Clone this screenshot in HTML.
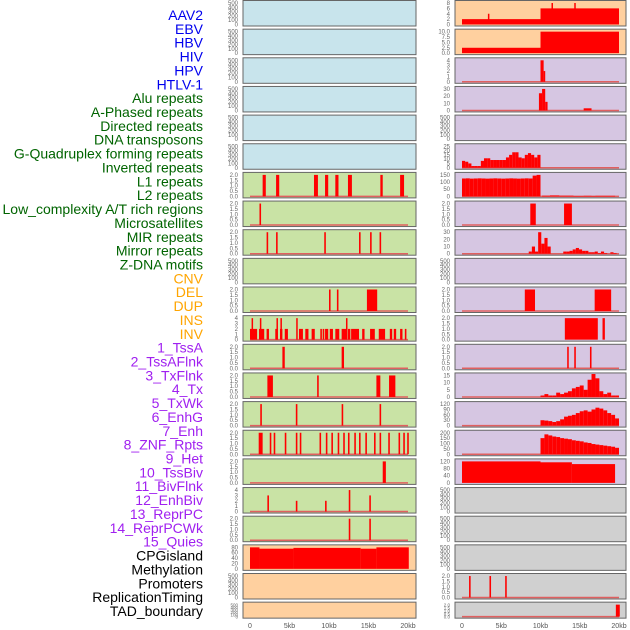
<!DOCTYPE html>
<html><head><meta charset="utf-8"><style>
html,body{margin:0;padding:0;background:#fff;}
svg{display:block;font-family:"Liberation Sans",sans-serif;}
</style></head><body>
<svg id="chart" width="630" height="630"></svg>
<script>
const labels=["AAV2","EBV","HBV","HIV","HPV","HTLV-1","Alu repeats","A-Phased repeats","Directed repeats","DNA transposons","G-Quadruplex forming repeats","Inverted repeats","L1 repeats","L2 repeats","Low_complexity A/T rich regions","Microsatellites","MIR repeats","Mirror repeats","Z-DNA motifs","CNV","DEL","DUP","INS","INV","1_TssA","2_TssAFlnk","3_TxFlnk","4_Tx","5_TxWk","6_EnhG","7_Enh","8_ZNF_Rpts","9_Het","10_TssBiv","11_BivFlnk","12_EnhBiv","13_ReprPC","14_ReprPCWk","15_Quies","CPGisland","Methylation","Promoters","ReplicationTiming","TAD_boundary"];
const labelColors=["#0000ee","#0000ee","#0000ee","#0000ee","#0000ee","#0000ee","#006400","#006400","#006400","#006400","#006400","#006400","#006400","#006400","#006400","#006400","#006400","#006400","#006400","#ffa500","#ffa500","#ffa500","#ffa500","#ffa500","#a020f0","#a020f0","#a020f0","#a020f0","#a020f0","#a020f0","#a020f0","#a020f0","#a020f0","#a020f0","#a020f0","#a020f0","#a020f0","#a020f0","#a020f0","#000","#000","#000","#000","#000"];
const xTicks=[0,5,10,15,20];
const xTickLabels=["0","5kb","10kb","15kb","20kb"];
const t500=[0,100,200,300,400,500];
const t2=[0,0.5,1,1.5,2];
const t4=[0,1,2,3,4];
// bars: [startKb,endKb,value]
const L7=[[1.6,2.0,2],[3.3,3.7,2],[8.1,8.6,2],[9.5,9.9,2],[10.8,11.2,2],[12.4,12.9,2],[16.5,16.8,2],[19.0,19.5,2]];
const L8=[[1.2,1.4,2]];
const L9=[[2.1,2.3,2],[3.3,3.5,2],[9.4,9.6,2],[13.8,14.0,2],[15.2,15.4,2],[16.4,16.6,2]];
const L11=[[10.0,10.2,2],[11.0,11.2,2],[14.8,16.1,2]];
const L12=[[0,0.9,2],[1.14,1.8,2],[2.1,2.4,2],[3.2,3.5,2],[3.8,4.1,2],[4.4,4.8,2],[6.2,6.7,2],[7.0,7.4,2],[7.8,8.2,2],[8.9,9.1,2],[9.2,9.4,2],[9.5,9.9,2],[10.1,10.5,2],[10.8,11.3,2],[11.6,12.2,2],[12.4,12.7,2],[12.8,13.8,2],[14.2,14.5,2],[15.2,15.8,2],[16.3,17.1,2],[17.7,18.0,2],[18.2,18.5,2],[19.0,19.3,2],[19.6,19.8,2],[0.2,0.35,4],[1.25,1.4,4],[3.35,3.5,4],[3.85,4.0,4],[5.85,6.0,4],[12.15,12.3,4]];
const L13=[[4.1,4.4,2],[11.6,11.9,2]];
const L14=[[2.2,2.9,2],[8.5,8.7,2],[16.0,16.5,2],[17.6,18.4,2]];
const L15=[[1.3,1.5,2],[5.8,6.0,2],[11.6,11.8,2],[16.4,16.6,2]];
const L16=[[1.1,1.6,2],[2.5,2.7,2],[3.0,3.2,2],[4.4,4.6,2],[5.8,6.0,2],[6.3,6.5,2],[8.8,9.0,2],[9.6,9.8,2],[10.3,10.5,2],[11.1,11.3,2],[11.8,12.0,2],[12.4,12.6,2],[13.2,13.4,2],[13.8,14.0,2],[14.6,14.8,2],[15.7,15.9,2],[16.4,16.6,2],[17.5,17.7,2],[18.8,19.0,2],[19.4,19.6,2],[19.9,20.1,2]];
const L17=[[16.8,17.2,2]];
const L18=[[2.2,2.4,3],[5.8,6.0,2],[9.5,9.7,2],[12.5,12.7,4],[15.1,15.3,3]];
const L19=[[12.5,12.7,2],[15.1,15.3,2]];
const L20=[[0,1.2,80],[1.2,5.5,75],[5.5,14.0,78],[14.0,16.0,75],[16.0,20.1,80]];
const R1=[[0,10,2],[3.3,3.4,4],[10,20,6],[11.4,11.5,8],[14.3,14.4,8]];
const R2=[[0,10,2.5],[10,20,10]];
const R3=[[10.0,10.4,4],[10.4,10.6,2]];
const R4=[[9.8,10.2,24],[10.2,10.6,30],[10.6,10.9,12],[15.5,16.5,3]];
const R6v=[8,7,5,2,2,2,8,11,11,9,9,9,9,9,12,15,18,18,12,11,15,17,15,12,15];
const R7v=[125,126,124,125,126,125,124,125,126,125,124,125,126,125,124,125,126,125,145,150];
const R7tail=[[10.2,11.2,5],[11.2,12.4,7],[12.4,14.2,5],[14.2,15.5,3],[15.5,16.5,4],[16.5,17.0,3],[17.0,19.5,4]];
const R8=[[8.7,9.4,2],[13.0,14.0,2]];
const R9v=[3,10,3,30,14,22,10,0,0,0,0,3,3,4,6,8,6,4,4,2,2,3,1,3,1,0,2,1];
const R11=[[8.0,9.3,2],[16.9,19.0,2]];
const R12=[[13.1,17.3,2],[17.9,18.2,2]];
const R13=[[13.4,13.6,2],[14.3,14.5,2],[16.3,16.5,2]];
const R14v=[1,2,1,1,3,2,3,4,6,7,8,5,12,16,13,4,2,3,1,1];
const R15v=[30,28,25,20,25,35,50,55,60,70,80,85,78,90,100,95,85,70,60,40];
const R16v=[150,185,175,165,160,150,145,140,130,125,120,110,105,95,90,85,80,75,70,60];
const R17=[[0,10,120],[10,14,115],[14,19.5,105]];
const R21=[[0.9,1.1,2],[3.5,3.7,2],[5.5,5.7,2]];
const R22=[[19.6,20.1,2]];
function bins(vals,start,end){const w=(end-start)/vals.length;return vals.map((v,i)=>[start+i*w,start+(i+1)*w,v]);}
const BL="#c8e4ec",GR="#c9e3a5",PE="#ffd09f",LV="#d6c6e2",GY="#d0d0d0";
const left=[
[BL,t500,[]],[BL,t500,[]],[BL,t500,[]],[BL,t500,[]],[BL,t500,[]],[BL,t500,[]],
[GR,t2,L7],[GR,t2,L8],[GR,t2,L9],[GR,t500,[]],[GR,t2,L11],[GR,t4,L12],[GR,t2,L13],[GR,t2,L14],[GR,t2,L15],[GR,t2,L16],[GR,t2,L17],[GR,t4,L18],[GR,t2,L19],
[PE,[0,20,40,60,80],L20],[PE,t500,[]],[PE,t500,[]]];
const right=[
[PE,[0,2,4,6,8],R1],[PE,[0,2.5,5,7.5,10],R2],[LV,t4,R3],[LV,[0,10,20,30],R4],[LV,t500,[]],
[LV,[0,5,10,15,20,25],bins(R6v,0,10)],[LV,[0,50,100,150],bins(R7v,0,10).concat(R7tail)],[LV,t2,R8],[LV,[0,10,20,30],bins(R9v,8.5,19.7)],[LV,t500,[]],
[LV,t2,R11],[LV,t2,R12],[LV,t2,R13],[LV,[0,5,10,15],bins(R14v,10,20)],[LV,[0,30,60,90,120],bins(R15v,10,20)],[LV,[0,50,100,150,200],bins(R16v,10,20)],[LV,[0,40,80,120],R17],
[GY,t500,[]],[GY,t500,[]],[GY,t500,[]],[GY,t2,R21],[GY,t2,R22]];
const NS="http://www.w3.org/2000/svg";
const svg=document.getElementById('chart');
function el(tag,attrs,parent){const e=document.createElementNS(NS,tag);for(const k in attrs)e.setAttribute(k,attrs[k]);(parent||svg).appendChild(e);return e;}
labels.forEach((t,i)=>{const e=el('text',{x:203,y:20+i*13.86,'text-anchor':'end','font-size':14,fill:labelColors[i]});e.textContent=t;

});
function drawPanel(p,i,side){
  const top=0.5+i*28.65,h=i===21?16:25.5;
  const px=side===0?243:455,pw=side===0?173:171;
  const x0=side===0?250:462,xs=side===0?7.9:7.85;
  const X=kb=>x0+kb*xs;
  const g=el('g',{});
  
  
  el('rect',{x:px,y:top,width:pw,height:h,fill:p[0],stroke:'#666','stroke-width':1},g);
  const ticks=p[1],mx=ticks[ticks.length-1];
  const yb=top+h-1.5,yt=top+2.5;
  const Y=v=>yb-(v/mx)*(yb-yt);
  const fs=i===21?4.5:6;
  ticks.forEach(t=>{const e=el('text',{x:px-5,y:Y(t)+2,'text-anchor':'end','font-size':fs,fill:'#666'},g);e.textContent=String(t%1===0&&mx<=10&&ticks.some(q=>q%1)?t.toFixed(1):(mx===2?t.toFixed(1):t));
  
  });
  if(p[2].length&&p[2].every(b=>b[1]-b[0]<3)) el('line',{x1:X(0),x2:X(20),y1:yb,y2:yb,stroke:'#e06060','stroke-width':1.5},g);
  p[2].forEach(b=>{const r=el('rect',{x:X(b[0]),y:Y(b[2]),width:Math.max(1.5,X(b[1])-X(b[0])),height:yb-Y(b[2]),fill:'#ff0000'},g);
  
  });
}
left.forEach((p,i)=>drawPanel(p,i,0));
right.forEach((p,i)=>drawPanel(p,i,1));
[0,1].forEach(s=>{const x0=s===0?250:462,xs=s===0?7.9:7.85;xTicks.forEach((t,j)=>{const e=el('text',{x:x0+t*xs,y:628,'text-anchor':'middle','font-size':7,fill:'#555'});e.textContent=xTickLabels[j];

});});
</script>
</body></html>
